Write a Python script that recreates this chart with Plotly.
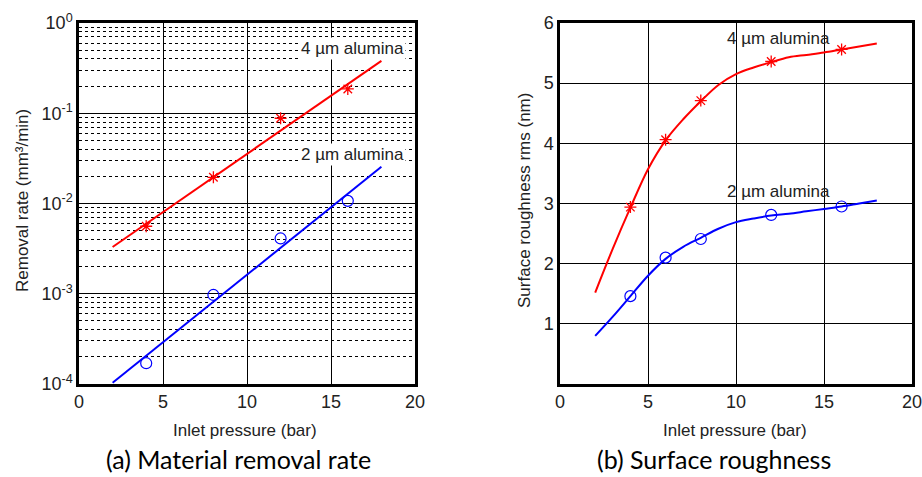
import plotly.graph_objects as go

# ---- data -------------------------------------------------------------
pressure_pts = [4, 8, 12, 16]
mrr_4um = [0.0056, 0.0195, 0.088, 0.186]
mrr_2um = [0.00017, 0.00097, 0.0041, 0.0107]
fit_x = [2, 18]
fit_4um = [0.0033, 0.38]
fit_2um = [0.000103, 0.0255]

rough_pts_x = [4, 6, 8, 12, 16]
rough_4um = [2.94, 4.06, 4.71, 5.36, 5.56]
rough_2um = [1.46, 2.1, 2.41, 2.81, 2.95]
curve_x = [2, 3, 4, 5, 6, 7, 8, 9, 10, 11, 12, 13, 14, 15, 16, 17, 18]
curve_4um = [1.52, 2.25, 2.93, 3.57, 4.05, 4.4, 4.7, 4.97, 5.15, 5.26, 5.35, 5.43, 5.47, 5.51, 5.56, 5.61, 5.66]
curve_2um = [0.8, 1.12, 1.46, 1.8, 2.08, 2.28, 2.43, 2.58, 2.69, 2.75, 2.8, 2.83, 2.87, 2.91, 2.95, 3.0, 3.05]

log_ticks = [1e-4, 1e-3, 1e-2, 1e-1, 1]
log_ticktext = ["10<sup>-4</sup>", "10<sup>-3</sup>", "10<sup>-2</sup>", "10<sup>-1</sup>", "10<sup>0</sup>"]
minor_log = [m * 10.0 ** e for e in range(-4, 0) for m in range(2, 10)]

RED = "#ff0000"
BLUE = "#0000ff"
AX_FONT = dict(family="Liberation Sans, Arial", size=18, color="#222")
XTITLE_FONT = dict(family="Liberation Sans Narrow, Liberation Sans, Arial", size=17, color="#222")
YTITLE_FONT = dict(family="Liberation Sans, Arial", size=17, color="#222")

W, H = 922, 477
def px_x(a, b):
    return [a / W, b / W]
def px_y(top, bottom):
    return [(H - bottom) / H, (H - top) / H]
def paper_x(px):
    return px / W
def paper_y(px):
    return (H - px) / H

fig = go.Figure()

# ---- (a) removal rate -------------------------------------------------
fig.add_trace(go.Scatter(x=fit_x, y=fit_4um, mode="lines", line=dict(color=RED, width=2),
                         xaxis="x", yaxis="y", showlegend=False))
fig.add_trace(go.Scatter(x=pressure_pts, y=mrr_4um, mode="markers",
                         marker=dict(symbol="asterisk-open", size=10, color=RED, line=dict(color=RED, width=1.3)),
                         xaxis="x", yaxis="y", showlegend=False))
fig.add_trace(go.Scatter(x=fit_x, y=fit_2um, mode="lines", line=dict(color=BLUE, width=2),
                         xaxis="x", yaxis="y", showlegend=False))
fig.add_trace(go.Scatter(x=pressure_pts, y=mrr_2um, mode="markers",
                         marker=dict(symbol="circle-open", size=11, color=BLUE, line=dict(color=BLUE, width=1.2)),
                         xaxis="x", yaxis="y", showlegend=False))

# ---- (b) surface roughness --------------------------------------------
fig.add_trace(go.Scatter(x=curve_x, y=curve_4um, mode="lines", line=dict(color=RED, width=2, shape="spline"),
                         xaxis="x2", yaxis="y2", showlegend=False))
fig.add_trace(go.Scatter(x=rough_pts_x, y=rough_4um, mode="markers",
                         marker=dict(symbol="asterisk-open", size=10, color=RED, line=dict(color=RED, width=1.3)),
                         xaxis="x2", yaxis="y2", showlegend=False))
fig.add_trace(go.Scatter(x=curve_x, y=curve_2um, mode="lines", line=dict(color=BLUE, width=2, shape="spline"),
                         xaxis="x2", yaxis="y2", showlegend=False))
fig.add_trace(go.Scatter(x=rough_pts_x, y=rough_2um, mode="markers",
                         marker=dict(symbol="circle-open", size=11, color=BLUE, line=dict(color=BLUE, width=1.2)),
                         xaxis="x2", yaxis="y2", showlegend=False))

common_x = dict(range=[0, 20], tickvals=[0, 5, 10, 15, 20], showgrid=True, gridcolor="black", gridwidth=1,
                showline=True, linecolor="black", linewidth=2.5, mirror=True, zeroline=False,
                ticks="", tickfont=AX_FONT, automargin=False, ticklabeloverflow="allow")
common_y = dict(showgrid=True, gridcolor="black", gridwidth=1, zeroline=False, tickfont=AX_FONT,
                showline=True, linecolor="black", linewidth=2.5, mirror=True, ticks="",
                automargin=False, ticklabeloverflow="allow")

fig.update_layout(
    width=W, height=H, margin=dict(l=0, r=0, t=0, b=0, autoexpand=False),
    paper_bgcolor="white", plot_bgcolor="white",
    xaxis=dict(domain=px_x(79, 415), anchor="y", **common_x),
    yaxis=dict(domain=px_y(23, 384), anchor="x", type="log", range=[-4, 0],
               tickvals=log_ticks, ticktext=log_ticktext,
               minor=dict(tickvals=minor_log, showgrid=True, gridcolor="black", gridwidth=1,
                          griddash="3px,3px", ticks=""),
               **common_y),
    xaxis2=dict(domain=px_x(560, 912), anchor="y2", **common_x),
    yaxis2=dict(domain=px_y(23, 384), anchor="x2", range=[0, 6], tickvals=[1, 2, 3, 4, 5, 6], **common_y),
)

# axis titles
for cx, txt in [(245, "Inlet pressure (bar)"), (735, "Inlet pressure (bar)")]:
    fig.add_annotation(x=paper_x(cx), y=paper_y(430), xref="paper", yref="paper", text=txt,
                       showarrow=False, font=XTITLE_FONT, xanchor="center", yanchor="middle")
for cx, txt in [(22, "Removal rate (mm³/min)"), (524, "Surface roughness rms (nm)")]:
    fig.add_annotation(x=paper_x(cx), y=paper_y(201), xref="paper", yref="paper", text=txt, textangle=-90,
                       showarrow=False, font=YTITLE_FONT, xanchor="center", yanchor="middle")

# curve labels
LABEL_FONT = dict(family="Liberation Sans, Arial", size=17, color="#222")
fig.add_annotation(x=16.25, y=-0.28, xref="x", yref="y", text="4 µm alumina", showarrow=False,
                   font=LABEL_FONT, bgcolor="white", xanchor="center", yanchor="middle")
fig.add_annotation(x=16.25, y=-1.46, xref="x", yref="y", text="2 µm alumina", showarrow=False,
                   font=LABEL_FONT, bgcolor="white", xanchor="center", yanchor="middle")
fig.add_annotation(x=12.4, y=5.75, xref="x2", yref="y2", text="4 µm alumina", showarrow=False,
                   font=LABEL_FONT, xanchor="center", yanchor="middle")
fig.add_annotation(x=12.4, y=3.2, xref="x2", yref="y2", text="2 µm alumina", showarrow=False,
                   font=LABEL_FONT, xanchor="center", yanchor="middle")

# panel captions
CAP_FONT = dict(family="Lato, Open Sans", size=25, color="black")
fig.add_annotation(x=paper_x(238), y=paper_y(459), xref="paper", yref="paper", text="(a) Material removal rate",
                   showarrow=False, font=CAP_FONT, xanchor="center", yanchor="middle")
fig.add_annotation(x=paper_x(714), y=paper_y(459), xref="paper", yref="paper", text="(b) Surface roughness",
                   showarrow=False, font=CAP_FONT, xanchor="center", yanchor="middle")

fig.write_html("out.html")
